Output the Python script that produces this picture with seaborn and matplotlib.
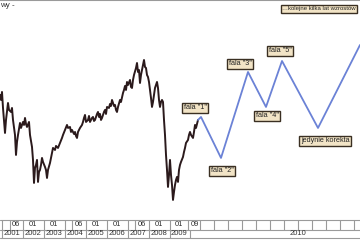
import matplotlib
matplotlib.use("Agg")
import matplotlib.pyplot as plt
import seaborn as sns
import pandas as pd

# ---- data ----
price_t = [0, 1, 2, 3, 5, 6, 8, 9, 11, 12,
           13, 15, 16, 17, 18, 20, 21, 23, 24, 25,
           26, 27, 29, 30, 32, 33, 34, 35, 36,
           37, 38, 39, 40, 41, 42, 43, 45, 46, 47,
           48, 50, 51, 53, 55, 56, 58, 60, 62, 63,
           65, 67, 68, 70, 71, 72, 74, 75, 76, 77,
           78, 80, 82, 83, 84, 85, 86, 88, 89, 90,
           92, 93, 94, 95, 97, 98, 99, 100, 101, 102,
           104, 105, 106, 107, 109, 110, 111, 112, 114, 115,
           116, 117, 118, 120, 121, 123, 124, 125, 126, 127,
           128, 130, 131, 132, 133, 134, 136, 137, 138, 139,
           140, 141, 142, 143, 144, 145, 146, 147, 148, 149,
           150, 151, 152, 153, 154, 155, 157, 158, 159, 160,
           161, 162, 163, 164, 165, 166, 167, 168, 169, 170,
           171, 172, 173, 174, 175, 176, 177, 178, 179, 180,
           181, 183, 184, 185, 186, 188, 189, 190, 191, 193,
           194, 195, 196, 198]
price_v = [125, 120, 128, 112, 87, 100, 117, 110, 108, 112,
           100, 85, 65, 78, 85, 97, 92, 98, 95, 102,
           96, 93, 98, 85, 73, 60, 37, 52, 55,
           60, 38, 48, 50, 55, 62, 58, 53, 50, 42,
           50, 57, 62, 72, 70, 74, 72, 77, 82, 85,
           90, 95, 92, 93, 88, 90, 86, 88, 84, 82,
           88, 92, 95, 98, 102, 105, 98, 100, 104, 98,
           102, 103, 99, 100, 106, 108, 103, 106, 100, 102,
           108, 110, 106, 113, 112, 116, 114, 120, 114, 115,
           110, 108, 113, 120, 118, 127, 130, 134, 130, 138,
           135, 140, 133, 132, 140, 145, 152, 157, 148, 150,
           137, 145, 150, 155, 160, 153, 152, 145, 143, 138,
           130, 122, 113, 118, 125, 132, 138, 132, 120, 113,
           118, 120, 118, 100, 85, 65, 50, 33, 45, 60,
           45, 35, 20, 28, 35, 40, 43, 38, 50, 55,
           58, 63, 68, 72, 77, 80, 85, 88, 85, 82,
           88, 95, 92, 100]

proj_t = [198, 201, 221, 248, 266, 282, 318, 360]
proj_v = [100, 103, 62, 148, 113, 159, 92, 175]

wave_labels = ['fala "1"', 'fala "2"', 'fala "3"', 'fala "4"', 'fala "5"', 'jedynie korekta']
wave_label_t = [195, 222, 240, 267, 280, 325]
wave_label_v = [112, 49, 156, 104, 169, 79]

top_note = '…kolejne kilka lat wzrostów'
left_note = 'wy -'

month_labels = ['06', '01', '01', '06', '01', '01', '06', '01', '01', '09']
month_t = [16, 33, 54, 79, 96, 117, 142, 159, 179, 195]
year_labels = ['2001', '2002', '2003', '2004', '2005', '2006', '2007', '2008', '2009', '2010']
year_t = [12, 33, 54, 75, 96, 117, 138, 159, 179, 298]

month_sep = [2, 10, 23, 44, 65, 72, 86, 107, 128, 135, 149, 170, 188, 200, 214, 228, 242,
             256, 270, 284, 298, 312, 326, 340, 354]
year_sep = [2, 23, 44, 65, 86, 107, 128, 149, 170, 190]

# ---- figure ----
sns.set_style("white")
plt.rcParams['font.family'] = ['Liberation Sans', 'DejaVu Sans']

fig = plt.figure(figsize=(3.6, 2.4), dpi=100)
ax = fig.add_axes([0, 0.092, 1, 0.908])
tab = fig.add_axes([0, 0, 1, 0.092])

df_p = pd.DataFrame({'t': price_t, 'v': price_v})
df_f = pd.DataFrame({'t': proj_t, 'v': proj_v})
sns.lineplot(data=df_p, x='t', y='v', ax=ax, color='#2b1a1c', lw=1.4, sort=False)
sns.lineplot(data=df_f, x='t', y='v', ax=ax, color='#6b82d6', lw=1.3, sort=False)

ax.set_xlim(0, 360)
ax.set_ylim(2, 220)
ax.set_xticks([])
ax.set_yticks([])
ax.set_xlabel('')
ax.set_ylabel('')
for s in ['left', 'right', 'bottom']:
    ax.spines[s].set_visible(False)
ax.spines['top'].set_color('#9a9a9a')
ax.spines['top'].set_linewidth(1.5)

box = dict(boxstyle='square,pad=0.25', fc='#f2e4c6', ec='#3a2f22', lw=1.0)
for lab, t, v in zip(wave_labels, wave_label_t, wave_label_v):
    ax.text(t, v, lab, fontsize=5.2, ha='center', va='center', color='#222222', bbox=box)
ax.text(282, 211, top_note, fontsize=4.3, ha='left', va='center', color='#222222',
        bbox=dict(boxstyle='square,pad=0.25', fc='#f2e4c6', ec='#3a2f22', lw=1.0))
ax.text(0, 214, left_note, fontsize=5.8, ha='left', va='center', color='#333333')

# ---- bottom date table ----
tab.set_xlim(0, 360)
tab.set_ylim(0, 22)
tab.axis('off')
for yy in [20, 10, 2]:
    tab.plot([0, 360], [yy, yy], color='#9a9a9a', lw=0.8)
for xx in month_sep:
    tab.plot([xx, xx], [10, 20], color='#9a9a9a', lw=0.8)
for xx in year_sep:
    tab.plot([xx, xx], [2, 10], color='#9a9a9a', lw=0.8)
for lab, t in zip(month_labels, month_t):
    tab.text(t, 15, lab, fontsize=5.5, ha='center', va='center', color='#333333')
for lab, t in zip(year_labels, year_t):
    tab.text(t, 6, lab, fontsize=5.5, ha='center', va='center', color='#333333')

fig.savefig('out.png', dpi=100)
